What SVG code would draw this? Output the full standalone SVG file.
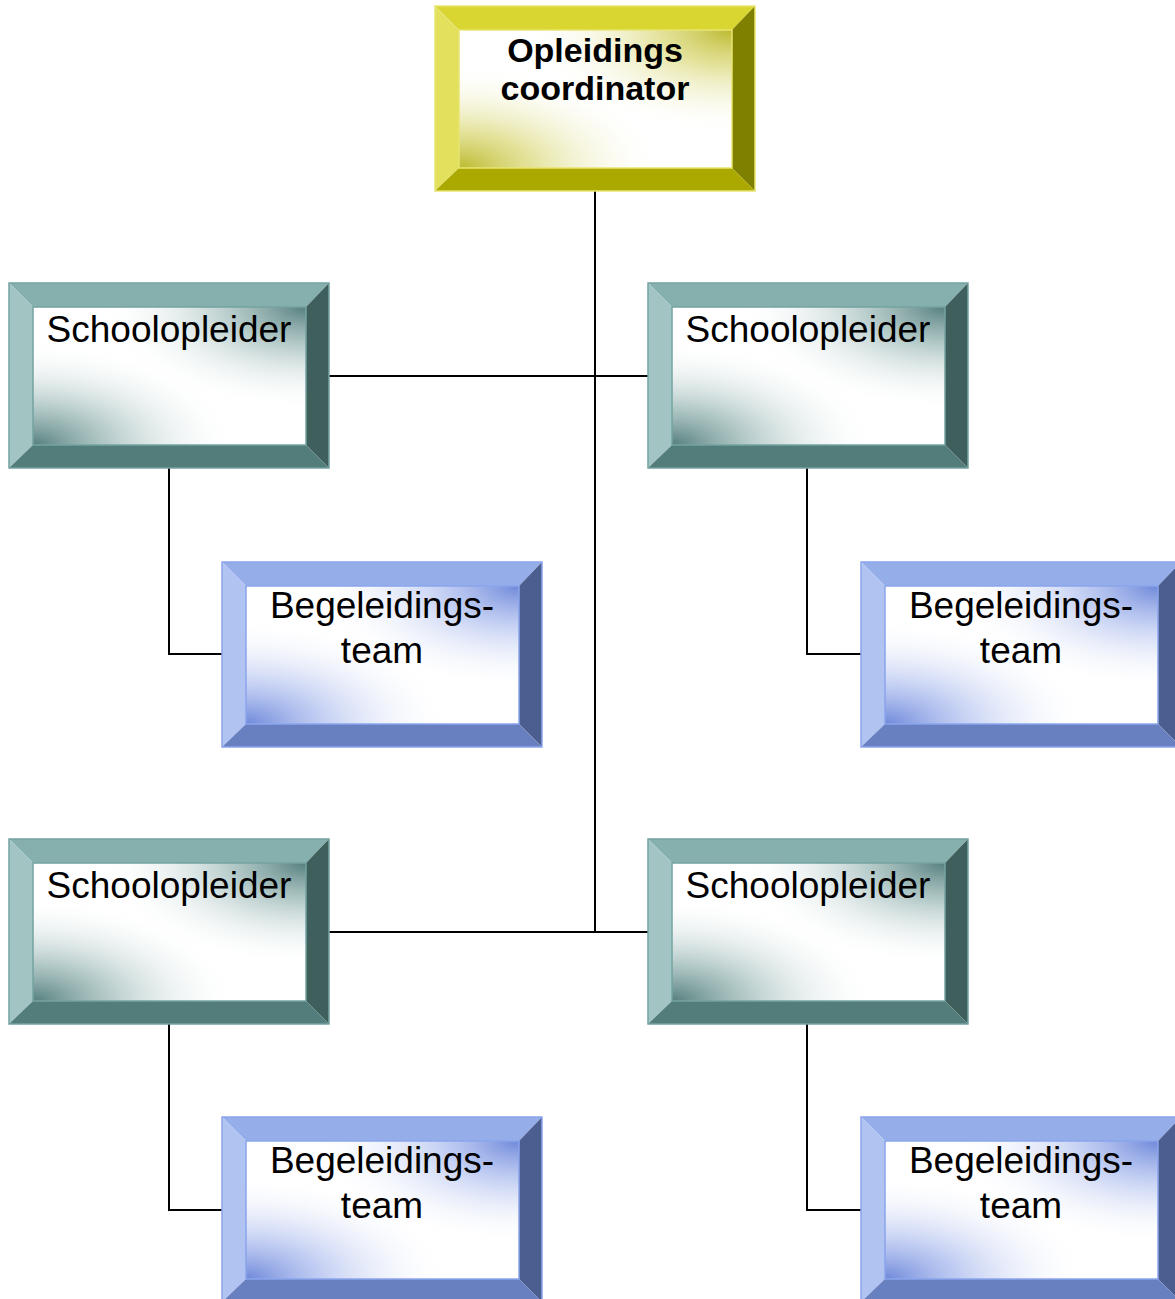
<svg xmlns="http://www.w3.org/2000/svg" width="1175" height="1299" viewBox="0 0 1175 1299">
<defs>
<radialGradient id="gy1" cx="1" cy="0" r="0.75"><stop offset="0" stop-color="#BDBA30"/><stop offset="0.35" stop-color="#D8D670" stop-opacity="0.7"/><stop offset="1" stop-color="#FFFFFF" stop-opacity="0"/></radialGradient>
<radialGradient id="gy2" cx="0" cy="1" r="0.75"><stop offset="0" stop-color="#BDBA30"/><stop offset="0.35" stop-color="#D8D670" stop-opacity="0.7"/><stop offset="1" stop-color="#FFFFFF" stop-opacity="0"/></radialGradient>
<radialGradient id="gt1" cx="1" cy="0" r="0.75"><stop offset="0" stop-color="#557F7D"/><stop offset="0.35" stop-color="#8FB0AE" stop-opacity="0.7"/><stop offset="1" stop-color="#FFFFFF" stop-opacity="0"/></radialGradient>
<radialGradient id="gt2" cx="0" cy="1" r="0.75"><stop offset="0" stop-color="#557F7D"/><stop offset="0.35" stop-color="#8FB0AE" stop-opacity="0.7"/><stop offset="1" stop-color="#FFFFFF" stop-opacity="0"/></radialGradient>
<radialGradient id="gb1" cx="1" cy="0" r="0.75"><stop offset="0" stop-color="#6F89DA"/><stop offset="0.35" stop-color="#A3B5EC" stop-opacity="0.7"/><stop offset="1" stop-color="#FFFFFF" stop-opacity="0"/></radialGradient>
<radialGradient id="gb2" cx="0" cy="1" r="0.75"><stop offset="0" stop-color="#6F89DA"/><stop offset="0.35" stop-color="#A3B5EC" stop-opacity="0.7"/><stop offset="1" stop-color="#FFFFFF" stop-opacity="0"/></radialGradient>
</defs>
<style>
.y .top{fill:#D9D632}.y .left{fill:#E3E05E}.y .right{fill:#808000}.y .bot{fill:#ABA900}
.y .g1{fill:url(#gy1)}.y .g2{fill:url(#gy2)}.y .ol{stroke:#E8E570}
.t .top{fill:#86B0AD}.t .left{fill:#A2C5C3}.t .right{fill:#3F5F5D}.t .bot{fill:#537D7B}
.t .g1{fill:url(#gt1)}.t .g2{fill:url(#gt2)}.t .ol{stroke:#74A3A0}
.b .top{fill:#95AEEA}.b .left{fill:#B0C3F1}.b .right{fill:#4B5E8F}.b .bot{fill:#6880C0}
.b .g1{fill:url(#gb1)}.b .g2{fill:url(#gb2)}.b .ol{stroke:#8BA5EC}
.in{fill:#FFFFFF}
.ol{fill:none;stroke-width:1.5}
.lbl{font-family:"Liberation Sans",Arial,sans-serif;font-size:37px;text-anchor:middle;fill:#000}
.bold{font-weight:bold;font-size:34px}
.conn{stroke:#000;stroke-width:2;fill:none}
</style>
<g id="connectors" class="conn">
<path d="M595,191 V932"/>
<path d="M329,376 H648"/>
<path d="M329,932 H648"/>
<path d="M169,468 V654 H222"/>
<path d="M807,468 V654 H861"/>
<path d="M169,1024 V1210 H222"/>
<path d="M807,1024 V1210 H861"/>
</g>
<g id="coordinator" class="y" transform="translate(435,6)">
<path class="top" d="M0,0 H320 L297,24 H24 Z"/><path class="left" d="M0,0 L24,24 V162 L0,185 Z"/><path class="right" d="M320,0 V185 L297,162 V24 Z"/><path class="bot" d="M0,185 L24,162 H297 L320,185 Z"/>
<rect class="in" x="24" y="24" width="273" height="138"/><rect class="g1" x="24" y="24" width="273" height="138"/><rect class="g2" x="24" y="24" width="273" height="138"/>
<rect class="ol" x="0" y="0" width="320" height="185"/><rect class="ol" x="24" y="24" width="273" height="138"/>
<text class="lbl bold" x="160" y="56">Opleidings</text><text class="lbl bold" x="160" y="94">coordinator</text>
</g>
<g id="school1" class="t" transform="translate(9,283)">
<path class="top" d="M0,0 H320 L297,24 H24 Z"/><path class="left" d="M0,0 L24,24 V162 L0,185 Z"/><path class="right" d="M320,0 V185 L297,162 V24 Z"/><path class="bot" d="M0,185 L24,162 H297 L320,185 Z"/>
<rect class="in" x="24" y="24" width="273" height="138"/><rect class="g1" x="24" y="24" width="273" height="138"/><rect class="g2" x="24" y="24" width="273" height="138"/>
<rect class="ol" x="0" y="0" width="320" height="185"/><rect class="ol" x="24" y="24" width="273" height="138"/>
<text class="lbl" x="160" y="59">Schoolopleider</text>
</g>
<g id="school2" class="t" transform="translate(648,283)">
<path class="top" d="M0,0 H320 L297,24 H24 Z"/><path class="left" d="M0,0 L24,24 V162 L0,185 Z"/><path class="right" d="M320,0 V185 L297,162 V24 Z"/><path class="bot" d="M0,185 L24,162 H297 L320,185 Z"/>
<rect class="in" x="24" y="24" width="273" height="138"/><rect class="g1" x="24" y="24" width="273" height="138"/><rect class="g2" x="24" y="24" width="273" height="138"/>
<rect class="ol" x="0" y="0" width="320" height="185"/><rect class="ol" x="24" y="24" width="273" height="138"/>
<text class="lbl" x="160" y="59">Schoolopleider</text>
</g>
<g id="school3" class="t" transform="translate(9,839)">
<path class="top" d="M0,0 H320 L297,24 H24 Z"/><path class="left" d="M0,0 L24,24 V162 L0,185 Z"/><path class="right" d="M320,0 V185 L297,162 V24 Z"/><path class="bot" d="M0,185 L24,162 H297 L320,185 Z"/>
<rect class="in" x="24" y="24" width="273" height="138"/><rect class="g1" x="24" y="24" width="273" height="138"/><rect class="g2" x="24" y="24" width="273" height="138"/>
<rect class="ol" x="0" y="0" width="320" height="185"/><rect class="ol" x="24" y="24" width="273" height="138"/>
<text class="lbl" x="160" y="59">Schoolopleider</text>
</g>
<g id="school4" class="t" transform="translate(648,839)">
<path class="top" d="M0,0 H320 L297,24 H24 Z"/><path class="left" d="M0,0 L24,24 V162 L0,185 Z"/><path class="right" d="M320,0 V185 L297,162 V24 Z"/><path class="bot" d="M0,185 L24,162 H297 L320,185 Z"/>
<rect class="in" x="24" y="24" width="273" height="138"/><rect class="g1" x="24" y="24" width="273" height="138"/><rect class="g2" x="24" y="24" width="273" height="138"/>
<rect class="ol" x="0" y="0" width="320" height="185"/><rect class="ol" x="24" y="24" width="273" height="138"/>
<text class="lbl" x="160" y="59">Schoolopleider</text>
</g>
<g id="team1" class="b" transform="translate(222,562)">
<path class="top" d="M0,0 H320 L297,24 H24 Z"/><path class="left" d="M0,0 L24,24 V162 L0,185 Z"/><path class="right" d="M320,0 V185 L297,162 V24 Z"/><path class="bot" d="M0,185 L24,162 H297 L320,185 Z"/>
<rect class="in" x="24" y="24" width="273" height="138"/><rect class="g1" x="24" y="24" width="273" height="138"/><rect class="g2" x="24" y="24" width="273" height="138"/>
<rect class="ol" x="0" y="0" width="320" height="185"/><rect class="ol" x="24" y="24" width="273" height="138"/>
<text class="lbl" x="160" y="56">Begeleidings-</text><text class="lbl" x="160" y="101">team</text>
</g>
<g id="team2" class="b" transform="translate(861,562)">
<path class="top" d="M0,0 H320 L297,24 H24 Z"/><path class="left" d="M0,0 L24,24 V162 L0,185 Z"/><path class="right" d="M320,0 V185 L297,162 V24 Z"/><path class="bot" d="M0,185 L24,162 H297 L320,185 Z"/>
<rect class="in" x="24" y="24" width="273" height="138"/><rect class="g1" x="24" y="24" width="273" height="138"/><rect class="g2" x="24" y="24" width="273" height="138"/>
<rect class="ol" x="0" y="0" width="320" height="185"/><rect class="ol" x="24" y="24" width="273" height="138"/>
<text class="lbl" x="160" y="56">Begeleidings-</text><text class="lbl" x="160" y="101">team</text>
</g>
<g id="team3" class="b" transform="translate(222,1117)">
<path class="top" d="M0,0 H320 L297,24 H24 Z"/><path class="left" d="M0,0 L24,24 V162 L0,185 Z"/><path class="right" d="M320,0 V185 L297,162 V24 Z"/><path class="bot" d="M0,185 L24,162 H297 L320,185 Z"/>
<rect class="in" x="24" y="24" width="273" height="138"/><rect class="g1" x="24" y="24" width="273" height="138"/><rect class="g2" x="24" y="24" width="273" height="138"/>
<rect class="ol" x="0" y="0" width="320" height="185"/><rect class="ol" x="24" y="24" width="273" height="138"/>
<text class="lbl" x="160" y="56">Begeleidings-</text><text class="lbl" x="160" y="101">team</text>
</g>
<g id="team4" class="b" transform="translate(861,1117)">
<path class="top" d="M0,0 H320 L297,24 H24 Z"/><path class="left" d="M0,0 L24,24 V162 L0,185 Z"/><path class="right" d="M320,0 V185 L297,162 V24 Z"/><path class="bot" d="M0,185 L24,162 H297 L320,185 Z"/>
<rect class="in" x="24" y="24" width="273" height="138"/><rect class="g1" x="24" y="24" width="273" height="138"/><rect class="g2" x="24" y="24" width="273" height="138"/>
<rect class="ol" x="0" y="0" width="320" height="185"/><rect class="ol" x="24" y="24" width="273" height="138"/>
<text class="lbl" x="160" y="56">Begeleidings-</text><text class="lbl" x="160" y="101">team</text>
</g>
</svg>
